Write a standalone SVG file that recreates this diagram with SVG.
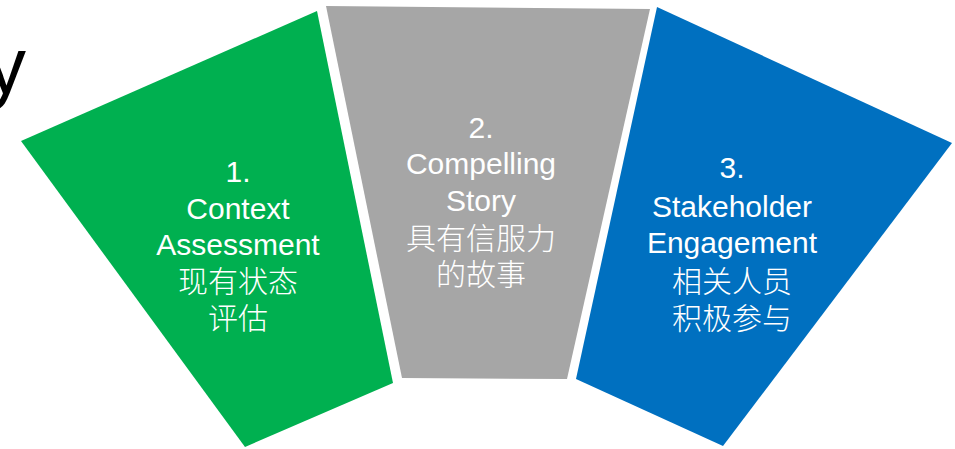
<svg xmlns="http://www.w3.org/2000/svg" width="955" height="449" viewBox="0 0 955 449">
  <style>
    .lbl { font-family: "Liberation Sans", Arial, "Noto Sans CJK SC", sans-serif; font-size: 30px; fill: #ffffff; text-anchor: middle; }
    .cjk { font-family: "Noto Sans CJK SC", "Liberation Sans", sans-serif; font-size: 30px; fill: #ffffff; text-anchor: middle; font-weight: 300; }
    .head { font-family: "Liberation Sans", Arial, sans-serif; font-size: 80px; fill: #000000; }
  </style>
  <rect width="955" height="449" fill="#ffffff"/>

  <!-- trailing letter of the heading, clipped by the left edge -->
  <text class="head" x="-14" y="93">y</text>

  <g id="context-assessment">
    <polygon points="21,141 317,11 393,383 245,447" fill="#00B050"/>
    <text class="lbl" x="238" y="182">1.</text>
    <text class="lbl" x="238" y="218.5">Context</text>
    <text class="lbl" x="238" y="255">Assessment</text>
    <text class="cjk" x="238" y="292">现有状态</text>
    <text class="cjk" x="238" y="329">评估</text>
  </g>

  <g id="compelling-story">
    <polygon points="326,6 650,9 567,379 402,378" fill="#A6A6A6"/>
    <text class="lbl" x="481" y="137.5">2.</text>
    <text class="lbl" x="481" y="174">Compelling</text>
    <text class="lbl" x="481" y="211">Story</text>
    <text class="cjk" x="481" y="249">具有信服力</text>
    <text class="cjk" x="481" y="285">的故事</text>
  </g>

  <g id="stakeholder-engagement">
    <polygon points="657,7 952,143 723,446 576,379" fill="#0070C0"/>
    <text class="lbl" x="732" y="177.5">3.</text>
    <text class="lbl" x="732" y="216.5">Stakeholder</text>
    <text class="lbl" x="732" y="253">Engagement</text>
    <text class="cjk" x="732" y="292">相关人员</text>
    <text class="cjk" x="732" y="329">积极参与</text>
  </g>

  <g id="connectors"></g>
</svg>
